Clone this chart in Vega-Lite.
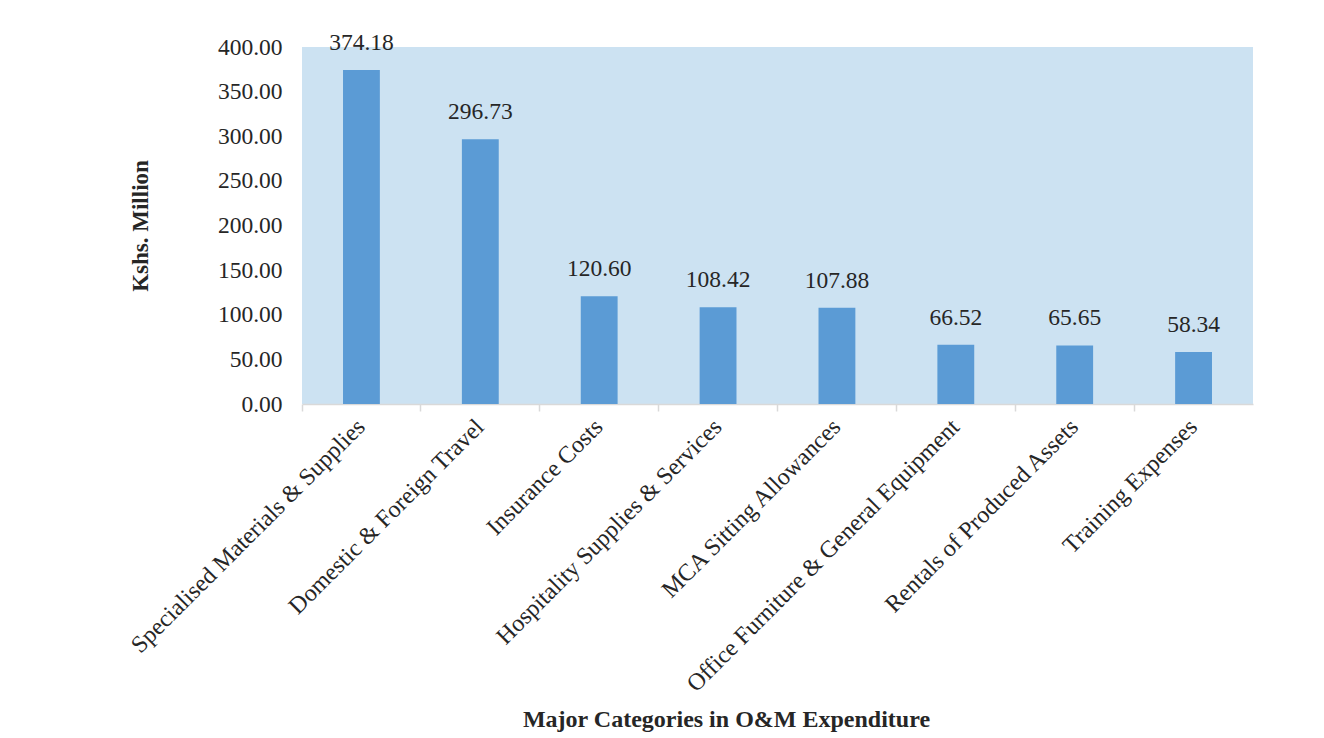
{
  "$schema": "https://vega.github.io/schema/vega-lite/v6.json",
  "autosize": {"type": "none"},
  "width": 951,
  "height": 357,
  "padding": {"left": 302, "top": 47, "right": 71, "bottom": 334},
  "background": "white",
  "data": {
    "values": [
      {"category": "Specialised Materials & Supplies", "value": 374.18},
      {"category": "Domestic & Foreign Travel", "value": 296.73},
      {"category": "Insurance Costs", "value": 120.60},
      {"category": "Hospitality Supplies & Services", "value": 108.42},
      {"category": "MCA Sitting Allowances", "value": 107.88},
      {"category": "Office Furniture & General Equipment", "value": 66.52},
      {"category": "Rentals of Produced Assets", "value": 65.65},
      {"category": "Training Expenses", "value": 58.34}
    ]
  },
  "config": {
    "view": {"fill": "#cce2f2", "stroke": null},
    "font": "Liberation Serif"
  },
  "encoding": {
    "x": {
      "field": "category",
      "type": "nominal",
      "sort": null,
      "scale": {"paddingInner": 0, "paddingOuter": 0},
      "axis": {
        "title": "Major Categories in O&M Expenditure",
        "titleFont": "Liberation Serif",
        "titleFontSize": 24,
        "titleFontWeight": "bold",
        "titleColor": "#262626",
        "titleBaseline": "alphabetic",
        "titleAnchor": "middle",
        "titleX": 424,
        "titleY": 322,
        "labelAngle": -45,
        "labelAlign": "right",
        "labelBaseline": "middle",
        "labelFont": "Liberation Serif",
        "labelFontSize": 24,
        "labelColor": "#262626",
        "labelPadding": 12,
        "labelLimit": 600,
        "bandPosition": 0,
        "ticks": true,
        "tickSize": 7,
        "tickColor": "#d9d9d9",
        "tickWidth": 1.5,
        "domainColor": "#d9d9d9",
        "domainWidth": 1.5,
        "grid": false
      }
    },
    "y": {
      "field": "value",
      "type": "quantitative",
      "scale": {"domain": [0, 400], "nice": false},
      "axis": {
        "title": "Kshs. Million",
        "titleFont": "Liberation Serif",
        "titleFontSize": 23,
        "titleFontWeight": "bold",
        "titleColor": "#262626",
        "titleBaseline": "alphabetic",
        "titleX": -155,
        "values": [0, 50, 100, 150, 200, 250, 300, 350, 400],
        "format": ".2f",
        "labelFont": "Liberation Serif",
        "labelFontSize": 23.5,
        "labelColor": "#262626",
        "labelPadding": 20,
        "ticks": false,
        "domain": false,
        "grid": false
      }
    }
  },
  "layer": [
    {
      "mark": {"type": "bar", "color": "#5b9bd5", "width": {"band": 0.31}}
    },
    {
      "mark": {"type": "text", "baseline": "alphabetic", "dy": -20, "fontSize": 23.5, "font": "Liberation Serif", "color": "#262626"},
      "encoding": {
        "text": {"field": "value", "type": "quantitative", "format": ".2f"}
      }
    }
  ]
}
